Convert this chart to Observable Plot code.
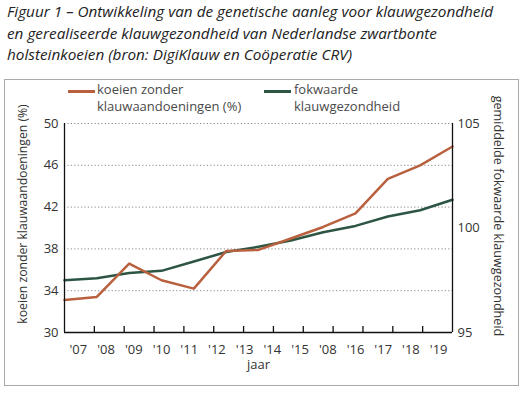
<!DOCTYPE html>
<html>
<head>
<meta charset="utf-8">
<script src="https://cdn.jsdelivr.net/npm/d3@7"></script>
<script src="https://cdn.jsdelivr.net/npm/@observablehq/plot@0.6"></script>
<style>
  body { margin: 0; background: #fff; font-family: "Open Sans", Lato, sans-serif; }
  #title { position: absolute; left: 7px; top: 1px; width: 516px; font-style: italic; font-size: 15.3px; line-height: 21.5px; color: #222; white-space: nowrap; }
  #box { position: absolute; left: 4px; top: 79px; width: 513px; height: 305px; border: 1px solid #aaa; }
  #chart { position: absolute; left: 0; top: 0; }
  .leg { position: absolute; font-size: 13px; line-height: 17px; color: #4a4a4a; white-space: nowrap; }
  .sw { position: absolute; height: 2.5px; width: 27px; }
</style>
</head>
<body>
<div id="title">Figuur 1 – Ontwikkeling van de genetische aanleg voor klauwgezondheid<br>en gerealiseerde klauwgezondheid van Nederlandse zwartbonte<br>holsteinkoeien (bron: DigiKlauw en Coöperatie CRV)</div>
<div id="box">
  <div id="chart"></div>
  <div class="sw" style="left:63px; top:10px; background:#b9613f"></div>
  <div class="leg" style="left:92px; top:1px">koeien zonder<br>klauwaandoeningen (%)</div>
  <div class="sw" style="left:259px; top:10px; background:#2d5544"></div>
  <div class="leg" style="left:289px; top:1px">fokwaarde<br>klauwgezondheid</div>
</div>
<script>
const yearLabels = ["'07","'08","'09","'10","'11","'12","'13","'14","'15","'08","'16","'17","'18","'19"];
const koeienZonder = [33.1, 33.4, 36.6, 35.0, 34.2, 37.8, 37.9, 39.0, 40.1, 41.4, 44.7, 46.0, 47.8];
const fokwaarde = [97.5, 97.6, 97.85, 97.95, 98.4, 98.85, 99.1, 99.4, 99.8, 100.1, 100.55, 100.85, 101.35];
const leftTicks = [30, 34, 38, 42, 46, 50];
const rightTicks = [95, 100, 105];
const gridTicks = [34, 38, 42, 46, 50];

const orange = "#b9613f", green = "#2d5544";
const n = koeienZonder.length;          // data points
const last = n - 1;
const toLeft = v => 30 + (v - 95) * 2;  // right axis 95–105 onto left 30–50
const fromLeft = v => 95 + (v - 30) / 2;

const orangeData = koeienZonder.map((v, i) => ({i, v}));
const greenData = fokwaarde.map((v, i) => ({i, v: toLeft(v)}));
const nBands = yearLabels.length;
const labelData = yearLabels.map((t, k) => ({t, x: (k + 0.5) * last / nBands}));
const tickData = d3.range(1, nBands - 1).map(j => j * last / (nBands - 1));

const font = "'Open Sans', Lato, sans-serif";
const chart = Plot.plot({
  width: 513, height: 305,
  marginLeft: 59, marginRight: 66, marginTop: 43, marginBottom: 53,
  style: {fontFamily: font, fontSize: "13px", color: "#333", background: "transparent", overflow: "visible"},
  x: {domain: [0, last], axis: null},
  y: {domain: [30, 50], axis: null},
  marks: [
    Plot.ruleY(gridTicks, {stroke: "#888", strokeDasharray: "1.2,2.2", strokeWidth: 1}),
    Plot.line(greenData, {x: "i", y: "v", stroke: green, strokeWidth: 2.5}),
    Plot.line(orangeData, {x: "i", y: "v", stroke: orange, strokeWidth: 2.5}),
    Plot.ruleX([0, last], {y1: 30, y2: 50, stroke: "#111", strokeWidth: 1.3}),
    Plot.ruleY([30], {stroke: "#111", strokeWidth: 1.3}),
    Plot.ruleX(tickData, {x: d => d, y1: 30, y2: 30, insetTop: -6, stroke: "#111", strokeWidth: 1.3}),
    Plot.axisY({ticks: leftTicks, tickSize: 0, tickPadding: 6, label: null, fontSize: 13, anchor: "left"}),
    Plot.axisY({ticks: rightTicks.map(toLeft), tickFormat: d => String(fromLeft(d)), tickSize: 0, tickPadding: 5, label: null, fontSize: 13, anchor: "right"}),
    Plot.text(labelData, {x: "x", y: 30, text: "t", dy: 17, fontSize: 13, fill: "#333"}),
    Plot.text(["jaar"], {frameAnchor: "bottom", text: d => d, dy: 36, fontSize: 13, fill: "#333"}),
    Plot.text(["koeien zonder klauwaandoeningen (%)"], {frameAnchor: "left", textAnchor: "middle", text: d => d, rotate: -90, dx: -41, dy: -14, fontSize: 12.2, fill: "#333"}),
    Plot.text(["gemiddelde fokwaarde klauwgezondheid"], {frameAnchor: "right", textAnchor: "middle", text: d => d, rotate: 90, dx: 46, dy: -12, fontSize: 12.6, fill: "#333"})
  ]
});
document.getElementById("chart").appendChild(chart);
</script>
</body>
</html>
